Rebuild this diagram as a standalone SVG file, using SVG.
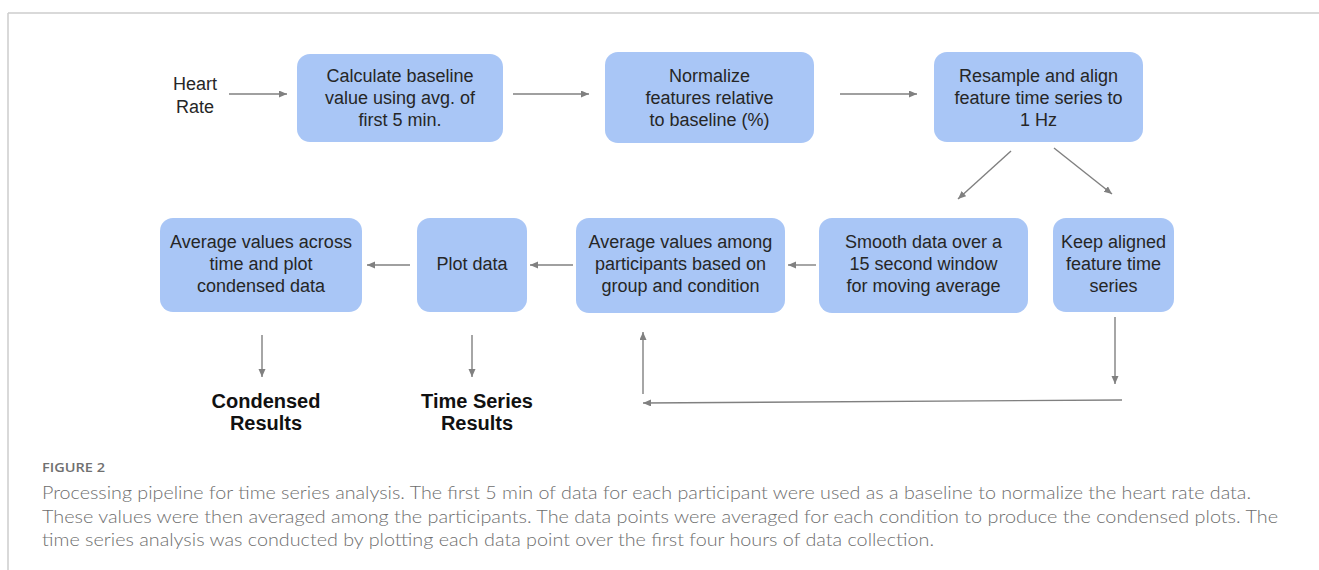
<svg xmlns="http://www.w3.org/2000/svg" width="1319" height="570" viewBox="0 0 1319 570">
<style>
.box{fill:#a9c6f6;}
.t{font-family:"Liberation Sans",Arial,sans-serif;font-size:18px;fill:#262626;text-anchor:middle;}
.b{font-family:"Liberation Sans",Arial,sans-serif;font-size:20px;font-weight:bold;fill:#111;text-anchor:middle;}
.c{stroke:#808080;stroke-width:1.4;fill:none;}
.cap{font-family:Lato,"Open Sans",sans-serif;font-size:17px;font-weight:300;fill:#6e6e6e;}
.fig{font-family:"Open Sans",Lato,sans-serif;font-size:12px;font-weight:600;fill:#707070;}
</style>
<defs>
<marker id="ah" markerUnits="userSpaceOnUse" markerWidth="9" markerHeight="8" refX="8" refY="3.5" orient="auto">
<path d="M0,0 L8,3.5 L0,7 z" fill="#808080"/>
</marker>
</defs>
<rect x="0" y="0" width="1319" height="570" fill="#fff"/>
<g id="frame">
<line x1="8" y1="13" x2="1319" y2="13" stroke="#cccccc" stroke-width="1.5"/>
<line x1="8" y1="13" x2="8" y2="570" stroke="#cccccc" stroke-width="1.5"/>
</g>
<g id="connectors">
<line class="c" x1="229" y1="94" x2="287" y2="94" marker-end="url(#ah)"/>
<line class="c" x1="513" y1="94" x2="589" y2="94" marker-end="url(#ah)"/>
<line class="c" x1="840" y1="94" x2="917" y2="94" marker-end="url(#ah)"/>
<line class="c" x1="1011" y1="151" x2="958" y2="199" marker-end="url(#ah)"/>
<line class="c" x1="1054" y1="148" x2="1112" y2="194" marker-end="url(#ah)"/>
<line class="c" x1="816" y1="265" x2="788" y2="265" marker-end="url(#ah)"/>
<line class="c" x1="573" y1="265" x2="530" y2="265" marker-end="url(#ah)"/>
<line class="c" x1="410" y1="265" x2="367" y2="265" marker-end="url(#ah)"/>
<line class="c" x1="262" y1="335" x2="262" y2="377" marker-end="url(#ah)"/>
<line class="c" x1="472" y1="335" x2="472" y2="377" marker-end="url(#ah)"/>
<line class="c" x1="1115" y1="317" x2="1115" y2="384" marker-end="url(#ah)"/>
<line class="c" x1="1122" y1="400" x2="643" y2="403" marker-end="url(#ah)"/>
<line class="c" x1="643" y1="394" x2="643" y2="332" marker-end="url(#ah)"/>
</g>
<g id="heart-rate">
<text class="t" x="195" y="90">Heart</text>
<text class="t" x="195" y="113">Rate</text>
</g>
<g id="calc-baseline">
<rect class="box" x="297" y="54" width="206" height="88" rx="13"/>
<text class="t" x="400" y="82">Calculate baseline</text>
<text class="t" x="400" y="104">value using avg. of</text>
<text class="t" x="400" y="126">first 5 min.</text>
</g>
<g id="normalize">
<rect class="box" x="605" y="52" width="209" height="91" rx="13"/>
<text class="t" x="709.5" y="82">Normalize</text>
<text class="t" x="709.5" y="104">features relative</text>
<text class="t" x="709.5" y="126">to baseline (%)</text>
</g>
<g id="resample">
<rect class="box" x="934" y="52" width="209" height="90" rx="13"/>
<text class="t" x="1038.5" y="82">Resample and align</text>
<text class="t" x="1038.5" y="104">feature time series to</text>
<text class="t" x="1038.5" y="126">1 Hz</text>
</g>
<g id="avg-across">
<rect class="box" x="160" y="218" width="202" height="94" rx="13"/>
<text class="t" x="261" y="248">Average values across</text>
<text class="t" x="261" y="270">time and plot</text>
<text class="t" x="261" y="292">condensed data</text>
</g>
<g id="plot-data">
<rect class="box" x="417" y="218" width="110" height="94" rx="13"/>
<text class="t" x="472" y="270">Plot data</text>
</g>
<g id="avg-among">
<rect class="box" x="576" y="218" width="209" height="95" rx="13"/>
<text class="t" x="680.5" y="248">Average values among</text>
<text class="t" x="680.5" y="270">participants based on</text>
<text class="t" x="680.5" y="292">group and condition</text>
</g>
<g id="smooth">
<rect class="box" x="819" y="218" width="209" height="95" rx="13"/>
<text class="t" x="923.5" y="248">Smooth data over a</text>
<text class="t" x="923.5" y="270">15 second window</text>
<text class="t" x="923.5" y="292">for moving average</text>
</g>
<g id="keep-aligned">
<rect class="box" x="1053" y="218" width="121" height="94" rx="13"/>
<text class="t" x="1113.5" y="248">Keep aligned</text>
<text class="t" x="1113.5" y="270">feature time</text>
<text class="t" x="1113.5" y="292">series</text>
</g>
<g id="condensed-results">
<text class="b" x="266" y="408">Condensed</text>
<text class="b" x="266" y="430">Results</text>
</g>
<g id="time-series-results">
<text class="b" x="477" y="408">Time Series</text>
<text class="b" x="477" y="430">Results</text>
</g>
<g id="caption">
<text class="fig" x="42" y="472" textLength="63" lengthAdjust="spacingAndGlyphs">FIGURE 2</text>
<text class="cap" x="42" y="499" textLength="1209" lengthAdjust="spacingAndGlyphs">Processing pipeline for time series analysis. The first 5 min of data for each participant were used as a baseline to normalize the heart rate data.</text>
<text class="cap" x="42" y="523" textLength="1236" lengthAdjust="spacingAndGlyphs">These values were then averaged among the participants. The data points were averaged for each condition to produce the condensed plots. The</text>
<text class="cap" x="42" y="546" textLength="892" lengthAdjust="spacingAndGlyphs">time series analysis was conducted by plotting each data point over the first four hours of data collection.</text>
</g>
</svg>
